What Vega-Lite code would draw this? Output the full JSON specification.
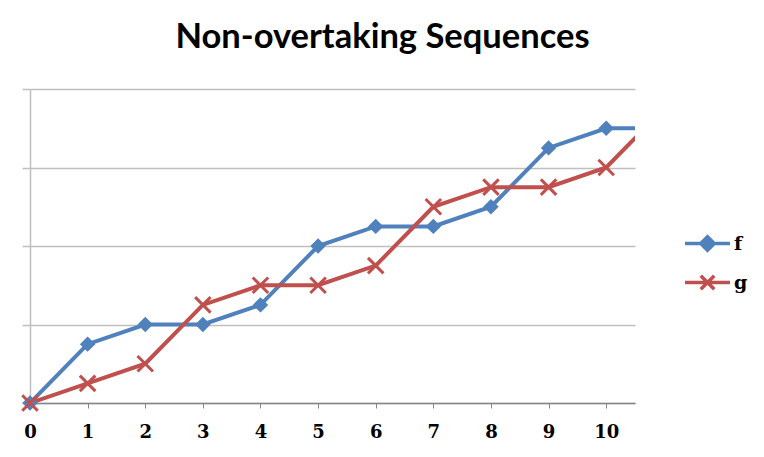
{
  "$schema": "https://vega.github.io/schema/vega-lite/v6.json",
  "autosize": {"type": "none"},
  "width": 605,
  "height": 314,
  "padding": {"left": 30, "top": 89, "right": 129, "bottom": 54},
  "background": "white",
  "config": {"view": {"stroke": null}},
  "title": {"text": "Non-overtaking Sequences", "font": "Lato", "fontSize": 34.5, "fontWeight": "bold", "color": "black", "dx": 50, "offset": 33},
  "data": {"values": [
    {"x": 0, "y": 0, "s": "f"}, {"x": 1, "y": 0.75, "s": "f"}, {"x": 2, "y": 1, "s": "f"}, {"x": 3, "y": 1, "s": "f"},
    {"x": 4, "y": 1.25, "s": "f"}, {"x": 5, "y": 2, "s": "f"}, {"x": 6, "y": 2.25, "s": "f"}, {"x": 7, "y": 2.25, "s": "f"},
    {"x": 8, "y": 2.5, "s": "f"}, {"x": 9, "y": 3.25, "s": "f"}, {"x": 10, "y": 3.5, "s": "f"}, {"x": 11, "y": 3.5, "s": "f"},
    {"x": 0, "y": 0, "s": "g"}, {"x": 1, "y": 0.25, "s": "g"}, {"x": 2, "y": 0.5, "s": "g"}, {"x": 3, "y": 1.25, "s": "g"},
    {"x": 4, "y": 1.5, "s": "g"}, {"x": 5, "y": 1.5, "s": "g"}, {"x": 6, "y": 1.75, "s": "g"}, {"x": 7, "y": 2.5, "s": "g"},
    {"x": 8, "y": 2.75, "s": "g"}, {"x": 9, "y": 2.75, "s": "g"}, {"x": 10, "y": 3, "s": "g"}, {"x": 11, "y": 3.75, "s": "g"}
  ]},
  "encoding": {
    "x": {"field": "x", "type": "quantitative", "scale": {"domain": [0, 10.5], "nice": false, "zero": false},
      "axis": {"title": null, "values": [0,1,2,3,4,5,6,7,8,9,10], "grid": false, "domainColor": "#868686", "domainWidth": 1.5,
        "tickColor": "#868686", "tickSize": 5, "labelFont": "DejaVu Serif", "labelFontWeight": "bold", "labelFontSize": 18,
        "labelColor": "black", "labelPadding": 15, "labelFlush": false}},
    "y": {"field": "y", "type": "quantitative", "scale": {"domain": [0, 4], "nice": false},
      "axis": {"title": null, "values": [0,1,2,3,4], "labels": false, "grid": true, "gridColor": "#BFBFBF", "gridWidth": 1.5,
        "domainColor": "#BFBFBF", "domainWidth": 1.5, "tickColor": "#BFBFBF", "tickWidth": 1.5, "tickSize": 8}}
  },
  "layer": [
    {
      "mark": {"type": "line", "strokeWidth": 4, "clip": true},
      "encoding": {
        "color": {"field": "s", "type": "nominal", "scale": {"domain": ["f", "g"], "range": ["#4F81BD", "#C0504D"]},
          "legend": {"title": null, "orient": "none", "legendX": 653, "legendY": 130, "symbolSize": 2025, "symbolStrokeWidth": 3.5,
            "labelFont": "DejaVu Serif", "labelFontWeight": "bold", "labelFontSize": 19, "labelColor": "black", "rowPadding": -5, "labelOffset": 2,
            "encode": {"symbols": {"update": {
              "shape": {"signal": "datum.value == 'f' ? 'M-1,0H1M0,-0.3L0.3,0L0,0.3L-0.3,0Z' : 'M-1,0H1M-0.3,-0.3L0.3,0.3M-0.3,0.3L0.3,-0.3'"},
              "fill": {"signal": "datum.value == 'f' ? '#4F81BD' : 'transparent'"},
              "fillOpacity": {"value": 1}
            }}}}}
      }
    },
    {
      "transform": [{"filter": "datum.s == 'f' && datum.x <= 10"}],
      "mark": {"type": "point", "shape": "diamond", "filled": true, "size": 240, "color": "#4F81BD", "opacity": 1}
    },
    {
      "transform": [{"filter": "datum.s == 'g' && datum.x <= 10"}],
      "mark": {"type": "point", "shape": "M-1,-1L1,1M-1,1L1,-1", "filled": false, "size": 240, "color": "#C0504D", "strokeWidth": 3, "opacity": 1}
    }
  ]
}
